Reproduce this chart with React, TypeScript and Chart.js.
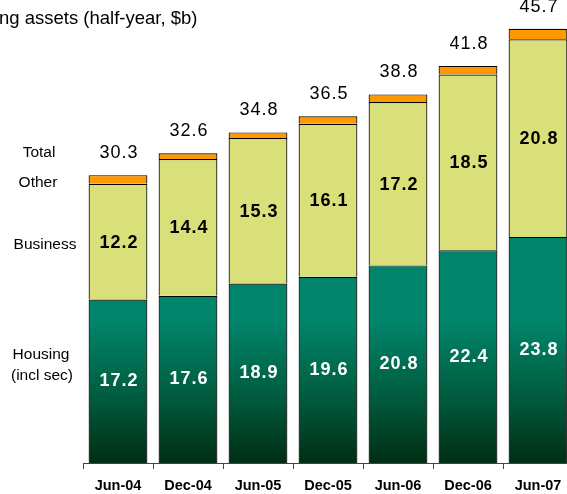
import React, { useEffect, useRef } from "react";
import { Chart, registerables } from "chart.js";

Chart.register(...registerables);

const categories = ["Jun-04", "Dec-04", "Jun-05", "Dec-05", "Jun-06", "Dec-06", "Jun-07"];
const housing = [17.2, 17.6, 18.9, 19.6, 20.8, 22.4, 23.8];
const business = [12.2, 14.4, 15.3, 16.1, 17.2, 18.5, 20.8];
const other = [0.9, 0.6, 0.6, 0.8, 0.8, 0.9, 1.1];
const totals = [30.3, 32.6, 34.8, 36.5, 38.8, 41.8, 45.7];
const titleText = "ng assets (half-year, $b)";
const seriesLabels = ["Total", "Other", "Business", "Housing", "(incl sec)"];

const FONT = "Arial, 'Liberation Sans', sans-serif";

const textPlugin = {
  id: "textPlugin",
  afterDatasetsDraw(chart: any) {
    const ctx = chart.ctx;
    const y = chart.scales.y;
    ctx.save();
    ctx.textBaseline = "middle";
    ctx.textAlign = "left";
    ctx.fillStyle = "#000";
    ctx.font = `18.5px ${FONT}`;
    ctx.fillText(titleText, -1, 19);

    // left labels
    ctx.font = `15.5px ${FONT}`;
    ctx.textAlign = "center";
    ctx.fillText(seriesLabels[0], 39, 153);
    ctx.fillText(seriesLabels[1], 38, 183);
    ctx.fillText(seriesLabels[2], 45, 245);
    ctx.fillText(seriesLabels[3], 41, 355);
    ctx.fillText(seriesLabels[4], 42, 376);

    const m0 = chart.getDatasetMeta(0);
    const m1 = chart.getDatasetMeta(1);
    categories.forEach((_, i) => {
      const bx = m0.data[i].x;
      // totals
      ctx.font = `18px ${FONT}`;
      (ctx as any).letterSpacing = "1px";
      ctx.fillStyle = "#000";
      ctx.fillText(String(totals[i].toFixed(1)), bx + 1, y.getPixelForValue(totals[i]) - 22);
      // housing
      ctx.font = `bold 18px ${FONT}`;
      (ctx as any).letterSpacing = "1px";
      ctx.fillStyle = "#fff";
      const hy = (y.getPixelForValue(0) + y.getPixelForValue(housing[i])) / 2;
      ctx.fillText(housing[i].toFixed(1), bx + 1, hy);
      // business
      ctx.fillStyle = "#000";
      const by = (y.getPixelForValue(housing[i]) + y.getPixelForValue(housing[i] + business[i])) / 2;
      ctx.fillText(business[i].toFixed(1), m1.data[i].x + 1, by + 1);
    });
    ctx.restore();
  },
};

export default function App() {
  const ref = useRef<HTMLCanvasElement>(null);
  useEffect(() => {
    const canvas = ref.current!;
    const housingBg = (c: any) => {
      const ch = c.chart;
      const area = ch.chartArea;
      if (!area) return "#00846a";
      const g = ch.ctx.createLinearGradient(0, area.bottom, 0, area.bottom - 140);
      g.addColorStop(0, "#002e14");
      g.addColorStop(0.45, "#005a3c");
      g.addColorStop(1, "#00846a");
      return g;
    };
    const common = {
      borderColor: "#000",
      borderWidth: 1.2,
      borderSkipped: "start",
      categoryPercentage: 1,
      barPercentage: 0.84,
      stack: "s",
    };
    const chart = new Chart(canvas, {
      type: "bar",
      data: {
        labels: categories,
        datasets: [
          { label: "Housing", data: housing, backgroundColor: housingBg, ...common },
          { label: "Business", data: business, backgroundColor: "#d9e07a", ...common },
          { label: "Other", data: other, backgroundColor: "#ff9900", ...common },
        ],
      },
      options: {
        animation: false,
        responsive: false,
        devicePixelRatio: 1,
        layout: { padding: { left: 83, right: 27, top: 7, bottom: 0 } },
        plugins: { legend: { display: false }, tooltip: { enabled: false } },
        scales: {
          x: {
            stacked: true,
            offset: true,
            grid: { display: true, drawOnChartArea: false, tickLength: 6, color: "#444", offset: true },
            border: { display: true, color: "#444", width: 1 },
            ticks: { color: "#000", font: { family: FONT, size: 14.5, weight: "bold" }, padding: 8 },
            afterFit: (s: any) => {
              s.height = 31;
            },
          },
          y: {
            stacked: true,
            display: false,
            min: 0,
            max: 48,
          },
        },
      },
      plugins: [textPlugin],
    } as any);
    return () => chart.destroy();
  }, []);
  return (
    <div style={{ position: "fixed", left: 0, top: 0, width: 567, height: 494, overflow: "hidden", background: "#fff" }}>
      <canvas ref={ref} width={600} height={494} style={{ width: 600, height: 494, display: "block" }} />
    </div>
  );
}
